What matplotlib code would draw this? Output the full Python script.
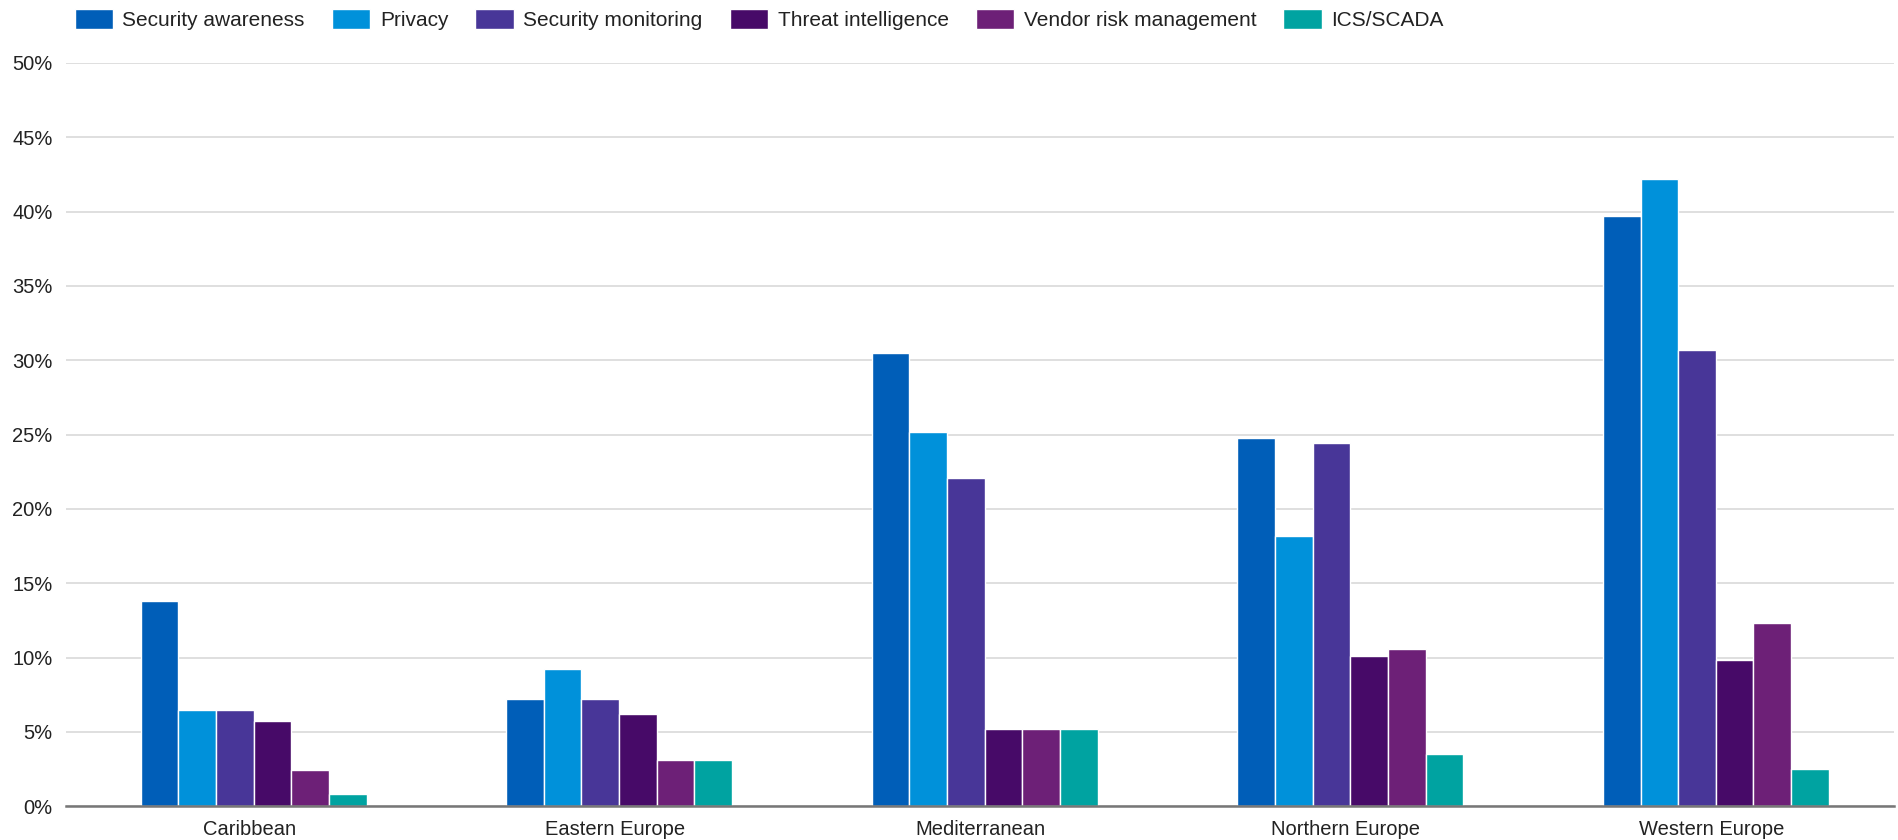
import matplotlib
matplotlib.use("Agg")
import matplotlib.pyplot as plt
import numpy as np
from matplotlib.ticker import FuncFormatter, MultipleLocator

plt.rcParams['font.family'] = ['Liberation Sans', 'DejaVu Sans']

categories = ["Caribbean", "Eastern Europe", "Mediterranean", "Northern Europe", "Western Europe"]
series_names = ["Security awareness", "Privacy", "Security monitoring",
                "Threat intelligence", "Vendor risk management", "ICS/SCADA"]
security_awareness = [13.8, 7.2, 30.5, 24.8, 39.7]
privacy = [6.5, 9.2, 25.2, 18.2, 42.2]
security_monitoring = [6.5, 7.2, 22.1, 24.4, 30.7]
threat_intelligence = [5.7, 6.2, 5.2, 10.1, 9.8]
vendor_risk = [2.4, 3.1, 5.2, 10.6, 12.3]
ics_scada = [0.8, 3.1, 5.2, 3.5, 2.5]
colors = ["#005EB8", "#0091DA", "#483698", "#470A68", "#6D2077", "#00A3A1"]

series = [security_awareness, privacy, security_monitoring,
          threat_intelligence, vendor_risk, ics_scada]

fig = plt.figure(figsize=(18.98, 8.4), dpi=100)
ax = fig.add_axes([0.035, 0.0403, 0.963, 0.8847])

x = np.arange(len(categories))
n = len(series)
bw = 0.103
for i, (vals, name, c) in enumerate(zip(series, series_names, colors)):
    offs = (i - (n - 1) / 2) * bw + 0.012
    ax.bar(x + offs, vals, width=bw, color=c, edgecolor="white", linewidth=1.0,
           label=name, zorder=3)

ax.set_xlim(-0.5, len(categories) - 0.5)
ax.set_ylim(0, 50)
ax.yaxis.set_major_locator(MultipleLocator(5))
ax.yaxis.set_major_formatter(FuncFormatter(lambda v, p: f"{int(round(v))}%"))
ax.grid(axis="y", color="#d9d9d9", linewidth=1.2, zorder=0)
ax.set_xticks(x)
ax.set_xticklabels(categories)
for s in ["top", "right", "left"]:
    ax.spines[s].set_visible(False)
ax.spines["bottom"].set_color("#777777")
ax.spines["bottom"].set_linewidth(1.8)
ax.spines["bottom"].set_zorder(4)
ax.tick_params(axis="both", length=0, labelsize=14.5, colors="#222222")
ax.tick_params(axis="y", pad=10)
ax.tick_params(axis="x", pad=10)

handles, labels = ax.get_legend_handles_labels()
fig.legend(handles, labels, loc="upper left", bbox_to_anchor=(0.0327, 1.004),
           ncol=6, frameon=False, fontsize=15, handlelength=1.85,
           handleheight=1.1, handletextpad=0.45, columnspacing=1.3,
           borderaxespad=0.2, labelcolor="#222222")

fig.savefig("out.png", dpi=100, facecolor="white")
